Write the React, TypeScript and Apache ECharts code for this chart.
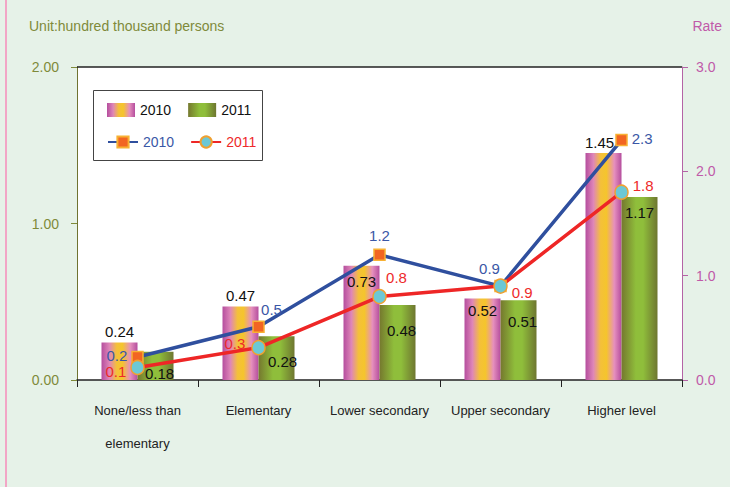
import React, { useEffect, useRef } from "react";
import * as echarts from "echarts";

const categories = ["None/less than\nelementary", "Elementary", "Lower secondary", "Upper secondary", "Higher level"];
const bars2010 = [0.24, 0.47, 0.73, 0.52, 1.45];
const bars2011 = [0.18, 0.28, 0.48, 0.51, 1.17];
const rate2010 = [0.22, 0.51, 1.2, 0.9, 2.3];
const rate2011 = [0.12, 0.31, 0.8, 0.9, 1.8];
const leftTicks = [0, 1, 2];
const rightTicks = [0, 1, 2, 3];

const FONT = "'Liberation Sans', Arial, sans-serif";

// per-item label placements (visual only)
const bar2010Label = [
  { position: "top", distance: 3 },
  { position: "top", distance: 3 },
  { position: "insideTop", distance: 8 },
  { position: "insideTop", distance: 4 },
  { position: "top", distance: 3, offset: [-4, 0] },
];
const bar2011Label = [
  { position: "insideTop", distance: 14, offset: [4, 0] },
  { position: "insideTop", distance: 18, offset: [6, 0] },
  { position: "insideTop", distance: 18, offset: [4, 0] },
  { position: "insideTop", distance: 14, offset: [4, 0] },
  { position: "insideTop", distance: 8, offset: [0, 0] },
];
const rate2010Label = [
  { position: "left", distance: 4, offset: [0, -2] },
  { position: "top", distance: 4, offset: [13, 0] },
  { position: "top", distance: 6 },
  { position: "top", distance: 4, offset: [-11, 0] },
  { position: "right", distance: 4, offset: [0, -2] },
];
const rate2011Label = [
  { position: "left", distance: 4, offset: [0, 4] },
  { position: "left", distance: 6, offset: [0, -4] },
  { position: "top", distance: 4, offset: [17, 0] },
  { position: "right", distance: 4, offset: [0, 6] },
  { position: "right", distance: 4, offset: [0, -7] },
];

export default function App() {
  const ref = useRef<HTMLDivElement>(null);
  useEffect(() => {
    if (!ref.current) return;
    const chart = echarts.init(ref.current, null, { renderer: "svg" });
    const grad2010 = new echarts.graphic.LinearGradient(0, 0, 1, 0, [
      { offset: 0, color: "#b54e9e" },
      { offset: 0.22, color: "#df86b8" },
      { offset: 0.42, color: "#f4c03a" },
      { offset: 0.58, color: "#f5c52c" },
      { offset: 0.8, color: "#e690bd" },
      { offset: 1, color: "#b54e9e" },
    ]);
    const grad2011 = new echarts.graphic.LinearGradient(0, 0, 1, 0, [
      { offset: 0, color: "#75782e" },
      { offset: 0.4, color: "#8fbe3b" },
      { offset: 0.6, color: "#8fbe3b" },
      { offset: 1, color: "#6e7630" },
    ]);
    const labelBase = { show: true, color: "#111", fontSize: 15, fontFamily: FONT };
    const option: any = {
      animation: false,
      backgroundColor: "#e6f2e8",
      textStyle: { fontFamily: FONT },
      grid: { left: 77, right: 48, top: 67, bottom: 107, show: true, backgroundColor: "#ffffff", borderWidth: 0 },
      legend: [
        {
          z: 20,
          left: 107,
          top: 103,
          padding: 0,
          icon: "rect",
          itemWidth: 28,
          itemHeight: 14,
          itemGap: 17,
          data: ["2010", "2011"],
          textStyle: { color: "#111", fontSize: 14, fontFamily: FONT },
        },
        {
          z: 20,
          left: 107,
          top: 135,
          padding: 0,
          itemWidth: 30,
          itemHeight: 14,
          itemGap: 16,
          data: [
            { name: "2010 rate", textStyle: { color: "#3a57a6" } },
            { name: "2011 rate", textStyle: { color: "#ee2a2a" } },
          ],
          formatter: (n: string) => n.slice(0, 4),
          textStyle: { fontSize: 14, fontFamily: FONT },
        },
      ],
      xAxis: {
        type: "category",
        data: categories,
        axisLine: { lineStyle: { color: "#222", width: 1.5 } },
        axisTick: { show: true, length: 7, lineStyle: { color: "#222" } },
        axisLabel: { color: "#222", fontSize: 13, lineHeight: 33, margin: 14, fontFamily: FONT, interval: 0 },
      },
      yAxis: [
        {
          type: "value",
          min: leftTicks[0],
          max: leftTicks[leftTicks.length - 1],
          interval: 1,
          splitLine: { show: false },
          axisLine: { show: true, lineStyle: { color: "#6f7330", width: 1 } },
          axisTick: { show: true, length: 6, lineStyle: { color: "#7f8a3a" } },
          axisLabel: { color: "#7f8a3a", fontSize: 14, margin: 18, fontFamily: FONT, formatter: (v: number) => v.toFixed(2) },
        },
        {
          type: "value",
          min: rightTicks[0],
          max: rightTicks[rightTicks.length - 1],
          interval: 1,
          position: "right",
          splitLine: { show: false },
          axisLine: { show: true, lineStyle: { color: "#b464a6", width: 1 } },
          axisTick: { show: true, length: 6, lineStyle: { color: "#b464a6" } },
          axisLabel: { color: "#c05aa8", fontSize: 14, margin: 14, fontFamily: FONT, formatter: (v: number) => v.toFixed(1) },
        },
      ],
      graphic: [
        { type: "line", shape: { x1: 6, y1: 0, x2: 6, y2: 487 }, style: { stroke: "#f2a6c6", lineWidth: 2 }, z: 1 },
        { type: "line", shape: { x1: 77, y1: 67, x2: 682, y2: 67 }, style: { stroke: "#222", lineWidth: 1.5 }, z: 5 },
        {
          type: "text",
          left: 29,
          top: 19,
          style: { text: "Unit:hundred thousand persons", fill: "#7f8a3a", fontSize: 14, fontFamily: FONT },
        },
        { type: "text", right: 8, top: 19, style: { text: "Rate", fill: "#c05aa8", fontSize: 14, fontFamily: FONT } },
        {
          type: "rect",
          shape: { x: 93.5, y: 90.5, width: 169, height: 70 },
          style: { fill: "#ffffff", stroke: "#444", lineWidth: 1 },
          z: 10,
        },
      ],
      series: [
        {
          name: "2010",
          type: "bar",
          barWidth: 36,
          barGap: "0%",
          itemStyle: { color: grad2010 },
          data: bars2010.map((v, i) => ({ value: v, label: { ...labelBase, ...bar2010Label[i] } })),
          label: labelBase,
        },
        {
          name: "2011",
          type: "bar",
          barWidth: 36,
          barGap: "0%",
          itemStyle: { color: grad2011 },
          data: bars2011.map((v, i) => ({ value: v, label: { ...labelBase, ...bar2011Label[i] } })),
          label: labelBase,
        },
        {
          name: "2010 rate",
          type: "line",
          yAxisIndex: 1,
          z: 5,
          symbol: "rect",
          symbolSize: 11,
          lineStyle: { color: "#2f4f9e", width: 3.5 },
          itemStyle: { color: "#f26522", borderColor: "#f8b133", borderWidth: 1.5 },
          data: rate2010.map((v, i) => ({
            value: v,
            label: { show: true, color: "#3a57a6", fontSize: 15, fontFamily: FONT, formatter: (p: any) => Number(p.value).toFixed(1), ...rate2010Label[i] },
          })),
        },
        {
          name: "2011 rate",
          type: "line",
          yAxisIndex: 1,
          z: 5,
          symbol: "circle",
          symbolSize: [13, 14],
          lineStyle: { color: "#ee2626", width: 3.5 },
          itemStyle: { color: "#6cc8d5", borderColor: "#f0a030", borderWidth: 1.5 },
          data: rate2011.map((v, i) => ({
            value: v,
            label: { show: true, color: "#ee2a2a", fontSize: 15, fontFamily: FONT, formatter: (p: any) => Number(p.value).toFixed(1), ...rate2011Label[i] },
          })),
        },
      ],
    };
    chart.setOption(option);
    return () => chart.dispose();
  }, []);
  return <div ref={ref} style={{ width: 730, height: 487, position: "absolute", left: 0, top: 0 }} />;
}
